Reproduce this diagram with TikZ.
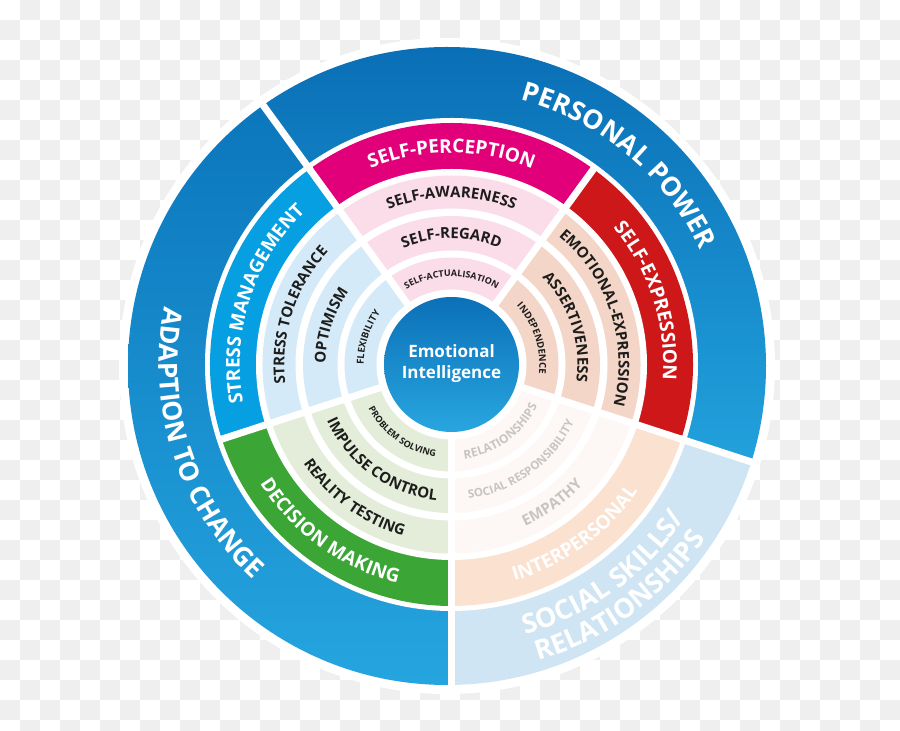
\documentclass[tikz,border=0pt]{standalone}
\usepackage{fontspec}
\setmainfont{Open Sans}
\usetikzlibrary{decorations.text}
\definecolor{chk}{HTML}{EFEFEF}
\definecolor{ppTop}{HTML}{0A6FB6}
\definecolor{ppBot}{HTML}{22A2DD}
\definecolor{adTop}{HTML}{0B76BC}
\definecolor{adBot}{HTML}{25A5DF}
\definecolor{socl}{HTML}{CFE5F3}
\definecolor{magc}{HTML}{E2007A}
\definecolor{redc}{HTML}{CD1719}
\definecolor{stmc}{HTML}{069FE1}
\definecolor{grnc}{HTML}{3BA635}
\definecolor{intc}{HTML}{FBE1D0}
\definecolor{pinks}{HTML}{FBDCE9}
\definecolor{peachs}{HTML}{F4D6C8}
\definecolor{blues}{HTML}{D5EAF8}
\definecolor{greens}{HTML}{E3EDDA}
\definecolor{ints}{HTML}{FDF8F5}
\definecolor{txtd}{HTML}{1D1D1B}
\definecolor{txtg}{HTML}{C8C4C2}
\definecolor{ctrTop}{HTML}{0B70B8}
\definecolor{ctrBot}{HTML}{28A6DF}
\newcommand\mysector[4]{\fill[#1] (c) -- ++(#2:#4) arc[start angle=#2, end angle=#3, radius=#4] -- cycle;}
% #1 centre angle, #2 baseline radius, #3 size, #4 colour, #5 text
\newcommand\cwtext[5]{\path[decorate, decoration={text along path, text align=center, text color=#4, text={|\fontsize{#3}{#3}\selectfont\bfseries|#5}}] (c) ++(#1+85:#2) arc[start angle=#1+85, end angle=#1-85, radius=#2];}
\newcommand\ccwtext[5]{\path[decorate, decoration={text along path, text align=center, text color=#4, text={|\fontsize{#3}{#3}\selectfont\bfseries|#5}}] (c) ++(#1-85:#2) arc[start angle=#1-85, end angle=#1+85, radius=#2];}
\begin{document}
\begin{tikzpicture}[x=1pt,y=1pt]
\useasboundingbox (0,0) rectangle (900,731);
\fill[white] (0,0) rectangle (900,731);
\foreach \i in {0,...,44}{\foreach \j in {0,...,36}{%
  \pgfmathtruncatemacro{\chkpar}{mod(\i+\j,2)}%
  \ifnum\chkpar=1 \fill[chk] (\i*20,731-\j*20) rectangle ++(20,-20);\fi}}
\coordinate (c) at (451.5,366.5);
\coordinate (oc) at (447,365);
% outer white border
\fill[white] (oc) circle[radius=328pt];
% outer ring
\begin{scope}
  \clip (oc) circle[radius=319pt];
  \begin{scope}
    \clip (c) -- ++(-18:500pt) arc[start angle=-18, end angle=126, radius=500pt] -- cycle;
    \shade[top color=ppTop, bottom color=ppBot] (100,684) rectangle (800,264);
  \end{scope}
  \begin{scope}
    \clip (c) -- ++(126:500pt) arc[start angle=126, end angle=270, radius=500pt] -- cycle;
    \shade[top color=adTop, bottom color=adBot] (100,628) rectangle (800,45);
  \end{scope}
  \mysector{socl}{270}{342}{500pt}
\end{scope}
\fill[white] (c) circle[radius=246.5pt];
% composites
\mysector{magc}{54}{126}{241.5pt}
\mysector{stmc}{126}{198}{241.5pt}
\mysector{grnc}{198}{270}{241.5pt}
\mysector{intc}{270}{342}{241.5pt}
\mysector{redc}{-18}{54}{241.5pt}
\fill[white] (c) circle[radius=195.5pt];
% subscale rings
\foreach \r/\w in {189pt/156pt,148.5pt/114pt,107pt/75pt}{
  \mysector{pinks}{54}{126}{\r}
  \mysector{blues}{126}{198}{\r}
  \mysector{greens}{198}{270}{\r}
  \mysector{ints}{270}{342}{\r}
  \mysector{peachs}{-18}{54}{\r}
  \fill[white] (c) circle[radius=\w];
}
% separators
\foreach \a in {54,126,198,270,342}
  \draw[white, line width=7pt] (c) ++(\a:70pt) -- ++(\a:175pt);
\foreach \a in {126,270,342}
  \draw[white, line width=7pt] (c) ++(\a:240pt) -- ++(\a:82pt);
% centre
\shade[top color=ctrTop, bottom color=ctrBot] (c) circle[radius=67.5pt];
\node[text=white, font=\fontsize{17}{21}\selectfont\bfseries, align=center] (ei) at (451.5,367.5) {Emotional\\Intelligence};
% outer texts
\cwtext{50}{273.5pt}{26.5}{white}{PERSONAL POWER}
\ccwtext{198}{292.5pt}{26.5}{white}{ADAPTION TO CHANGE}
\ccwtext{306}{279.6pt}{27}{white}{SOCIAL SKILLS/}
\ccwtext{306}{308.6pt}{27}{white}{RELATIONSHIPS}
% composite texts
\cwtext{90}{211.7pt}{19}{white}{SELF-PERCEPTION}
\cwtext{18}{211.7pt}{19}{white}{SELF-EXPRESSION}
\cwtext{162}{211.7pt}{19}{white}{STRESS MANAGEMENT}
\ccwtext{234}{225.3pt}{19}{white}{DECISION MAKING}
\ccwtext{306}{225.3pt}{19}{white}{INTERPERSONAL}
% ring 3
\cwtext{90}{167.1pt}{15}{txtd}{SELF-AWARENESS}
\cwtext{18}{167.1pt}{15}{txtd}{EMOTIONAL-EXPRESSION}
\cwtext{162}{167.1pt}{15}{txtd}{STRESS TOLERANCE}
\ccwtext{234}{177.9pt}{15}{txtd}{REALITY TESTING}
\ccwtext{306}{177.9pt}{15}{txtg}{EMPATHY}
% ring 2
\cwtext{90}{125.9pt}{15}{txtd}{SELF-REGARD}
\cwtext{18}{125.9pt}{15}{txtd}{ASSERTIVENESS}
\cwtext{162}{125.9pt}{15}{txtd}{OPTIMISM}
\ccwtext{234}{136.6pt}{15}{txtd}{IMPULSE CONTROL}
\ccwtext{306}{135.4pt}{11.5}{txtg}{SOCIAL RESPONSIBILITY}
% ring 1
\cwtext{90}{87.8pt}{9}{txtd}{SELF-ACTUALISATION}
\cwtext{18}{87.8pt}{9.5}{txtd}{INDEPENDENCE}
\cwtext{162}{87.8pt}{9.5}{txtd}{FLEXIBILITY}
\ccwtext{234}{94.2pt}{9}{txtd}{PROBLEM SOLVING}
\ccwtext{306}{95.3pt}{12}{txtg}{RELATIONSHIPS}
\end{tikzpicture}
\end{document}
